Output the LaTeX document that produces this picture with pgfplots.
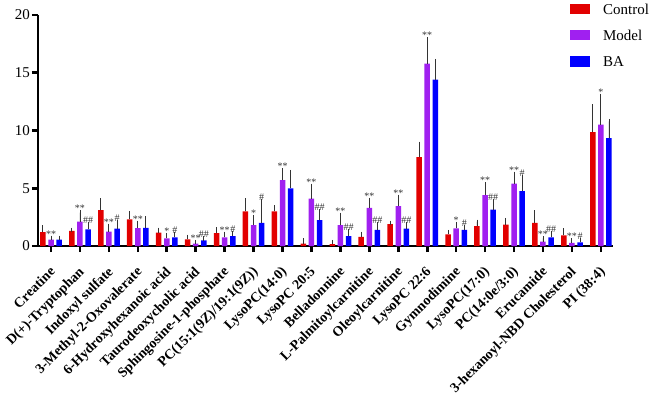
\documentclass[border=0pt]{standalone}
\usepackage{pgfplots}
\usepackage{pgfplotstable}
\pgfplotsset{compat=1.18}
\usepackage{fontspec}
\setmainfont{Liberation Serif}

\definecolor{ctrl}{RGB}{226,0,0}
\definecolor{model}{RGB}{160,32,240}
\definecolor{ba}{RGB}{0,0,255}

% x, mean and SD per group, significance marks for Model and BA
\pgfplotstableread{
x  cm    ce    mm    me    bm    be    ml   bl
0  1.20  0.40  0.55  0.15  0.55  0.15  **   {}
1  1.30  0.10  2.10  0.80  1.45  0.45  **   \#\#
2  3.10  0.85  1.25  0.50  1.50  0.55  **   \#
3  2.30  0.55  1.55  0.45  1.58  0.82  **   {}
4  1.15  0.25  0.65  0.30  0.75  0.30  *    \#
5  0.58  0.22  0.20  0.15  0.48  0.17  **   \#\#
6  1.12  0.33  0.75  0.30  0.85  0.25  **   \#
7  3.00  0.95  1.80  0.70  2.00  1.90  *    \#
8  3.00  0.35  5.70  0.85  5.00  1.40  **   {}
9  0.20  0.30  4.10  1.10  2.25  0.75  **   \#\#
10 0.17  0.18  1.80  0.90  0.85  0.45  **   \#\#
11 0.80  0.25  3.30  0.70  1.40  0.50  **   \#\#
12 1.90  0.10  3.45  0.80  1.50  0.40  **   \#\#
13 7.70  1.15  15.80 2.10  14.40 1.60  **   {}
14 1.00  0.20  1.53  0.37  1.40  0.25  *    \#
15 1.73  0.37  4.40  0.95  3.15  0.75  **   \#\#
16 1.85  0.40  5.40  0.85  4.75  1.20  **   \#
17 2.00  0.90  0.37  0.28  0.75  0.35  **   \#\#
18 0.93  0.40  0.26  0.24  0.32  0.18  **   \#
19 9.87  2.23  10.50 2.50  9.35  1.45  *    {}
}\datatable

\pgfplotsset{
  barleg/.style={legend image code/.code={\fill (0pt,-5pt) rectangle (20pt,5.5pt);}},
  errs/.style={error bars/.cd, y dir=plus, y explicit,
    error bar style={line width=0.9pt, black!80},
    error mark options={line width=0.9pt, black!80, mark size=2.2pt}},
  sig/.style={forget plot, draw=none, nodes near coords, point meta=explicit symbolic,
    nodes near coords style={font=\fontsize{10}{10}\selectfont, anchor=south, inner sep=0.5pt, black!80}},
}

\begin{document}
\begin{tikzpicture}
\path[use as bounding box] (-38pt,-150pt) rectangle (615pt,246pt);
\begin{axis}[
  at={(0,0)}, anchor=south west,
  scale only axis, width=575pt, height=231pt,
  xmin=-0.45, xmax=19.42, ymin=0, ymax=20,
  axis lines=left, axis line style={-, line width=2.6pt},
  tick align=outside, major tick length=6pt,
  tick style={line width=2.6pt, black},
  ytick={0,5,10,15,20},
  xtick={0,...,19},
  xticklabels={Creatine, D(+)-Tryptophan, Indoxyl sulfate, 3-Methyl-2-Oxovalerate,
    6-Hydroxyhexanoic acid, Taurodeoxycholic acid, Sphingosine-1-phosphate,
    PC(15:1(9Z)/19:1(9Z)), LysoPC(14:0), LysoPC 20:5, Belladonnine,
    L-Palmitoylcarnitine, Oleoylcarnitine, LysoPC 22:6, Gymnodimine,
    LysoPC(17:0), PC(14:0e/3:0), Erucamide, 3-hexanoyl-NBD Cholesterol, PI (38:4)},
  xticklabel style={rotate=45, anchor=north east, inner sep=1pt, yshift=-7pt, xshift=-10pt,
    font=\fontsize{14}{14}\bfseries},
  yticklabel style={font=\fontsize{15}{15}\selectfont, inner sep=2pt},
  /pgf/number format/assume math mode=true,
  legend style={at={(rel axis cs:0.925,1.05)}, anchor=north west, draw=none, fill=none,
    font=\fontsize{15}{15}\selectfont, row sep=15.5pt, inner sep=0pt,
    nodes={inner sep=0pt, text depth=0pt}},
  legend cell align=left,
  /tikz/every odd column/.append style={column sep=13pt},
]
\addplot[ybar, bar width=0.19, bar shift=0, fill=ctrl, draw=none, barleg, errs]
  table[x expr=\thisrow{x}-0.28, y=cm, y error=ce] {\datatable};
\addlegendentry{Control}
\addplot[ybar, bar width=0.19, bar shift=0, fill=model, draw=none, barleg, errs]
  table[x=x, y=mm, y error=me] {\datatable};
\addlegendentry{Model}
\addplot[ybar, bar width=0.19, bar shift=0, fill=ba, draw=none, barleg, errs]
  table[x expr=\thisrow{x}+0.28, y=bm, y error=be] {\datatable};
\addlegendentry{BA}

\addplot[sig] table[x=x, y expr=\thisrow{mm}+\thisrow{me}, meta=ml] {\datatable};
\addplot[sig] table[x expr=\thisrow{x}+0.28, y expr=\thisrow{bm}+\thisrow{be}, meta=bl] {\datatable};
\end{axis}
\end{tikzpicture}
\end{document}
